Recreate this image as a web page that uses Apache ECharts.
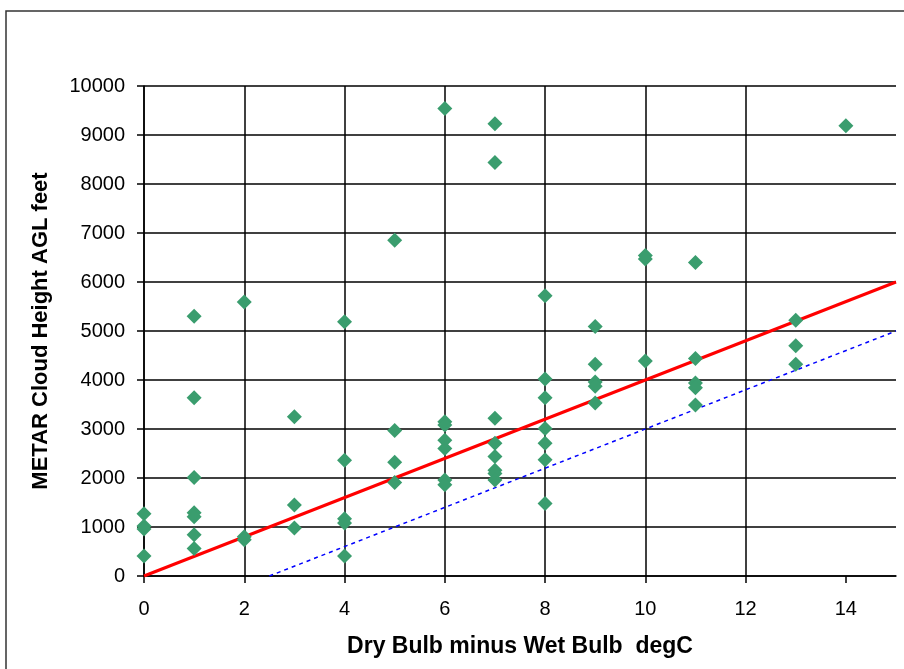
<!DOCTYPE html>
<html>
<head>
<meta charset="utf-8">
<title>METAR cloud height vs dew point depression</title>
<script src="https://cdn.jsdelivr.net/npm/echarts@6/dist/echarts.min.js"></script>
<style>
  html, body { margin: 0; padding: 0; background: #fff; }
  #chart { width: 904px; height: 669px; }
</style>
</head>
<body>
<div id="chart"></div>
<script>
// observations: dry bulb minus wet bulb (degC) and METAR cloud height (ft AGL)
const spread = [
  0, 0, 0, 0,
  1, 1, 1, 1, 1, 1, 1,
  2, 2, 2,
  3, 3, 3,
  4, 4, 4, 4, 4,
  5, 5, 5, 5,
  6, 6, 6, 6, 6, 6, 6,
  7, 7, 7, 7, 7, 7, 7, 7,
  8, 8, 8, 8, 8, 8, 8,
  9, 9, 9, 9, 9,
  10, 10, 10,
  11, 11, 11, 11, 11,
  13, 13, 13,
  14
]
const cloudHeight = [
  1270, 1020, 960, 410,
  5300, 3640, 2010, 1290, 1210, 840, 560,
  5590, 800, 740,
  3250, 1450, 980,
  5190, 2360, 1170, 1080, 410,
  6850, 2970, 2320, 1910,
  9540, 3150, 3080, 2770, 2600, 1960, 1860,
  9230, 8440, 3220, 2710, 2440, 2160, 2090, 1960,
  5720, 4020, 3640, 3010, 2710, 2370, 1480,
  5090, 4320, 3960, 3870, 3530,
  6540, 6470, 4390,
  6400, 4440, 3940, 3840, 3490,
  5220, 4700, 4320,
  9190
]

// reference lines (end points)
const fitLine = [[0, 0], [15, 6000]]
const lowerLine = [[2.5, 0], [15, 5000]]

const xTicks = [0, 2, 4, 6, 8, 10, 12, 14]

const points = spread.map((x, i) => [x, cloudHeight[i]])

const chart = echarts.init(document.getElementById('chart'))

const font = '"Liberation Sans", Arial, sans-serif'

chart.setOption({
  animation: false,
  backgroundColor: '#fff',
  textStyle: { fontFamily: font },
  graphic: [{
    type: 'rect',
    shape: { x: 6, y: 11, width: 1000, height: 1000 },
    style: { fill: 'none', stroke: '#333', lineWidth: 1.5 },
    silent: true
  }],
  grid: { left: 144, right: 8, top: 86, bottom: 93 },
  xAxis: {
    type: 'value',
    min: 0,
    max: 15,
    interval: 2,
    name: 'Dry Bulb minus Wet Bulb  degC',
    nameLocation: 'middle',
    nameGap: 59,
    nameTextStyle: { fontSize: 23, fontWeight: 'bold', color: '#000', fontFamily: font },
    axisLine: { show: true, onZero: false, lineStyle: { color: '#000', width: 1.5 } },
    axisTick: { show: true, length: 7, customValues: xTicks, lineStyle: { color: '#000', width: 1.5 } },
    axisLabel: { customValues: xTicks, margin: 23, fontSize: 20, color: '#000', fontFamily: font },
    splitLine: { show: true, showMaxLine: false, lineStyle: { color: '#000', width: 1.5 } }
  },
  yAxis: {
    type: 'value',
    min: 0,
    max: 10000,
    interval: 1000,
    name: 'METAR Cloud Height AGL feet',
    nameLocation: 'middle',
    nameGap: 92,
    nameTextStyle: { fontSize: 22, fontWeight: 'bold', color: '#000', fontFamily: font },
    axisLine: { show: true, onZero: false, lineStyle: { color: '#000', width: 1.5 } },
    axisTick: { show: true, length: 7, lineStyle: { color: '#000', width: 1.5 } },
    axisLabel: { margin: 19, fontSize: 20, color: '#000', fontFamily: font, formatter: v => String(v) },
    splitLine: { show: true, lineStyle: { color: '#000', width: 1.5 } }
  },
  series: [
    {
      type: 'line',
      data: fitLine,
      symbol: 'none',
      lineStyle: { color: '#ff0000', width: 3 },
      z: 3
    },
    {
      type: 'line',
      data: lowerLine,
      symbol: 'none',
      lineStyle: { color: '#0000ff', width: 1.5, type: [4, 4] },
      z: 3
    },
    {
      type: 'scatter',
      data: points,
      symbol: 'diamond',
      symbolSize: 15,
      itemStyle: { color: '#3a9d6e', opacity: 1 },
      z: 5
    }
  ]
})
</script>
</body>
</html>
